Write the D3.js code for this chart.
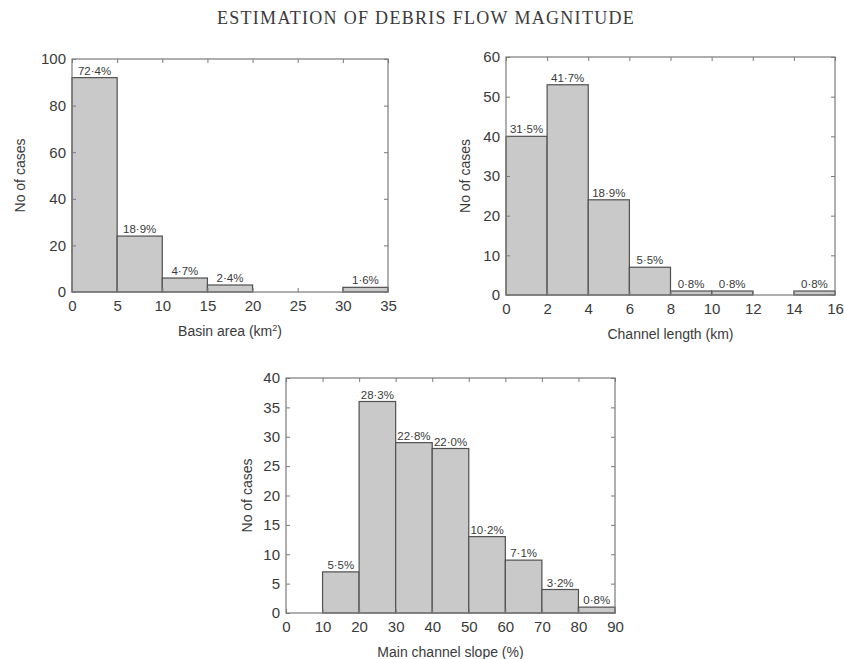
<!DOCTYPE html>
<html>
<head>
<meta charset="utf-8">
<script src="https://cdn.jsdelivr.net/npm/d3@7/dist/d3.min.js"></script>
<style>
  body { margin: 0; background: #fff; }
  text { fill: #3a3a3a; }
</style>
</head>
<body>
<svg id="chart" width="844" height="659"></svg>
<script>
// data
const basinEdges = [0, 5, 10, 15, 20, 25, 30, 35];
const basinCounts = [92, 24, 6, 3, 0, 0, 2];
const basinLabels = ['72·4%', '18·9%', '4·7%', '2·4%', '', '', '1·6%'];
const basinYTicks = [0, 20, 40, 60, 80, 100];

const lengthEdges = [0, 2, 4, 6, 8, 10, 12, 14, 16];
const lengthCounts = [40, 53, 24, 7, 1, 1, 0, 1];
const lengthLabels = ['31·5%', '41·7%', '18·9%', '5·5%', '0·8%', '0·8%', '', '0·8%'];
const lengthYTicks = [0, 10, 20, 30, 40, 50, 60];

const slopeEdges = [0, 10, 20, 30, 40, 50, 60, 70, 80, 90];
const slopeCounts = [0, 7, 36, 29, 28, 13, 9, 4, 1];
const slopeLabels = ['', '5·5%', '28·3%', '22·8%', '22·0%', '10·2%', '7·1%', '3·2%', '0·8%'];
const slopeYTicks = [0, 5, 10, 15, 20, 25, 30, 35, 40];

const svg = d3.select('#chart')

svg.append('text')
  .attr('x', 426)
  .attr('y', 24)
  .attr('text-anchor', 'middle')
  .style('font-family', '"Liberation Serif", "Times New Roman", serif')
  .style('font-size', '18px')
  .style('letter-spacing', '1.3px')
  .text('ESTIMATION OF DEBRIS FLOW MAGNITUDE')

// one histogram panel
function drawHist(box, edges, counts, labels, yTicks, xTitle) {
  const x = d3.scaleLinear()
    .domain([edges[0], edges[edges.length - 1]])
    .range([box.left, box.right])
  const y = d3.scaleLinear()
    .domain([0, yTicks[yTicks.length - 1]])
    .range([box.bottom, box.top])
  const g = svg.append('g')
  const font = '"Liberation Sans", Arial, sans-serif'

  // bars
  const bins = counts.map((c, i) => ({ x0: edges[i], x1: edges[i + 1], n: c, label: labels[i] }))
    .filter(d => d.n > 0)
  g.selectAll('rect.bar')
    .data(bins)
    .join('rect')
    .attr('class', 'bar')
    .attr('x', d => x(d.x0))
    .attr('y', d => y(d.n))
    .attr('width', d => x(d.x1) - x(d.x0))
    .attr('height', d => y(0) - y(d.n))
    .attr('fill', '#c9c9c9')
    .attr('stroke', '#505050')
    .attr('stroke-width', 1.2)

  g.selectAll('text.pct')
    .data(bins)
    .join('text')
    .attr('class', 'pct')
    .attr('x', d => (x(d.x0) + x(d.x1)) / 2)
    .attr('y', d => y(d.n) - 3)
    .attr('text-anchor', 'middle')
    .style('font-family', font)
    .style('font-size', '11.5px')
    .text(d => d.label)

  // frame
  g.append('rect')
    .attr('x', box.left)
    .attr('y', box.top)
    .attr('width', box.right - box.left)
    .attr('height', box.bottom - box.top)
    .attr('fill', 'none')
    .attr('stroke', '#7a7a7a')
    .attr('stroke-width', 1.2)

  // inward ticks on all sides
  const tl = 4
  const xAxisB = d3.axisBottom(x).tickValues(edges).tickSize(-tl).tickPadding(8).tickFormat(d3.format('d'))
  const xAxisT = d3.axisTop(x).tickValues(edges).tickSize(-tl).tickFormat('')
  const yAxisL = d3.axisLeft(y).tickValues(yTicks).tickSize(-tl).tickPadding(6).tickFormat(d3.format('d'))
  const yAxisR = d3.axisRight(y).tickValues(yTicks).tickSize(-tl).tickFormat('')

  const axes = [
    g.append('g').attr('transform', 'translate(0,' + box.bottom + ')').call(xAxisB),
    g.append('g').attr('transform', 'translate(0,' + box.top + ')').call(xAxisT),
    g.append('g').attr('transform', 'translate(' + box.left + ',0)').call(yAxisL),
    g.append('g').attr('transform', 'translate(' + box.right + ',0)').call(yAxisR)
  ]
  axes.forEach(a => {
    a.select('.domain').remove()
    a.selectAll('line').attr('stroke', '#7a7a7a')
    a.selectAll('text')
      .style('font-family', font)
      .style('font-size', '15px')
      .attr('fill', '#3a3a3a')
  })

  // axis titles
  const xt = g.append('text')
    .attr('x', (box.left + box.right) / 2)
    .attr('y', box.bottom + 44)
    .attr('text-anchor', 'middle')
    .style('font-family', font)
    .style('font-size', '14px')
  xTitle(xt)

  g.append('text')
    .attr('transform', 'translate(' + (box.left - box.yTitleGap) + ',' + ((box.top + box.bottom) / 2) + ') rotate(-90)')
    .attr('text-anchor', 'middle')
    .style('font-family', font)
    .style('font-size', '14px')
    .text('No of cases')
}

drawHist({ left: 72, right: 388, top: 59, bottom: 292, yTitleGap: 47 },
  basinEdges, basinCounts, basinLabels, basinYTicks,
  t => {
    t.append('tspan').text('Basin area (km')
    t.append('tspan').attr('dy', -5).style('font-size', '9px').text('2')
    t.append('tspan').attr('dy', 5).text(')')
  })

drawHist({ left: 506, right: 835, top: 57, bottom: 295, yTitleGap: 36 },
  lengthEdges, lengthCounts, lengthLabels, lengthYTicks,
  t => t.text('Channel length (km)'))

drawHist({ left: 286, right: 615, top: 378, bottom: 613, yTitleGap: 34 },
  slopeEdges, slopeCounts, slopeLabels, slopeYTicks,
  t => t.text('Main channel slope (%)'))
</script>
</body>
</html>
